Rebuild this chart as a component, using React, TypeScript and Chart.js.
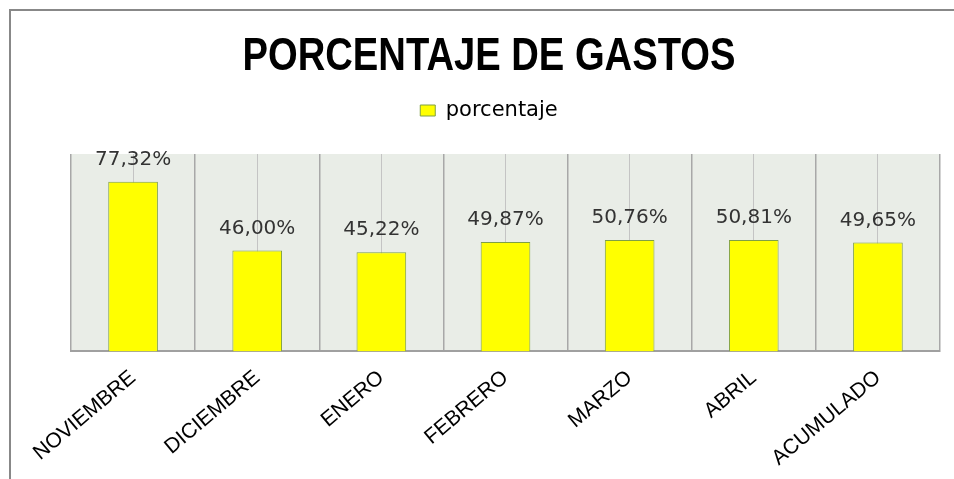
import React, { useEffect, useRef } from "react";
import { Chart, registerables } from "chart.js";

Chart.register(...registerables);

const titleText = "PORCENTAJE DE GASTOS";
const categories = ["NOVIEMBRE", "DICIEMBRE", "ENERO", "FEBRERO", "MARZO", "ABRIL", "ACUMULADO"];
const porcentaje = [77.32, 46.0, 45.22, 49.87, 50.76, 50.81, 49.65];
const yMin = 0;
const yMax = 90;

const bgPlugin = {
  id: "plotBg",
  beforeDraw(chart: any) {
    const { ctx, chartArea } = chart;
    ctx.save();
    ctx.fillStyle = "#e9ede7";
    ctx.fillRect(chartArea.left, chartArea.top, chartArea.right - chartArea.left, chartArea.bottom - chartArea.top);
    ctx.restore();
  },
};

// Condensed title (Calibri-like narrow bold), drawn as real canvas text
const titlePlugin = {
  id: "narrowTitle",
  afterDraw(chart: any) {
    const { ctx } = chart;
    ctx.save();
    ctx.font = "bold 46px 'Liberation Sans'";
    ctx.fillStyle = "#000000";
    ctx.textAlign = "center";
    ctx.textBaseline = "alphabetic";
    ctx.translate(489, 70);
    ctx.scale(0.83, 1);
    ctx.fillText(titleText, 0, 0);
    ctx.restore();
  },
};

const labelPlugin = {
  id: "barLabels",
  afterDatasetsDraw(chart: any) {
    const { ctx } = chart;
    const meta = chart.getDatasetMeta(0);
    ctx.save();
    ctx.font = "20px 'DejaVu Sans'";
    ctx.fillStyle = "#333333";
    ctx.textAlign = "center";
    ctx.textBaseline = "middle";
    meta.data.forEach((bar: any, i: number) => {
      const v = porcentaje[i];
      const txt = v.toFixed(2).replace(".", ",") + "%";
      ctx.fillText(txt, bar.x, bar.y - 22);
    });
    ctx.restore();
  },
};

export default function App() {
  const ref = useRef<HTMLCanvasElement | null>(null);
  useEffect(() => {
    if (!ref.current) return;
    const chart = new Chart(ref.current, {
      type: "bar",
      data: {
        labels: categories,
        datasets: [
          {
            label: "porcentaje",
            data: porcentaje,
            backgroundColor: "#ffff00",
            borderColor: "#7f9f45",
            borderWidth: 1,
            barPercentage: 0.4,
            categoryPercentage: 1,
            xAxisID: "x",
          },
        ],
      },
      options: {
        responsive: false,
        animation: false,
        devicePixelRatio: 1,
        layout: { padding: { left: 38, right: 14, top: 90, bottom: -6 } },
        plugins: {
          title: { display: false },
          legend: {
            display: true,
            labels: {
              color: "#000000",
              font: { family: "'DejaVu Sans'", size: 21 },
              boxWidth: 15,
              boxHeight: 11,
              padding: 10,
            },
          },
          tooltip: { enabled: false },
        },
        scales: {
          y: {
            display: true,
            min: yMin,
            max: yMax,
            grid: { display: false },
            border: { display: false },
            ticks: { display: false },
            afterFit(scale: any) {
              scale.width = 33;
            },
          },
          x: {
            position: "bottom",
            grid: { offset: true, color: "#a8a8a8", lineWidth: 1.5, drawTicks: false },
            border: { display: true, color: "#a0a0a0", width: 2 },
            ticks: {
              autoSkip: false,
              maxRotation: 40,
              minRotation: 40,
              padding: 14,
              color: "#000000",
              font: { family: "'Liberation Sans'", size: 21 },
            },
          },
          x2: {
            type: "category",
            position: "top",
            labels: categories,
            offset: true,
            grid: { offset: false, color: "#c4c4c4", lineWidth: 1, drawTicks: true, tickLength: 23, tickColor: "rgba(0,0,0,0)" },
            border: { display: false },
            ticks: { display: false },
          },
        },
      },
      plugins: [bgPlugin, labelPlugin, titlePlugin],
    });
    return () => chart.destroy();
  }, []);
  return (
    <div style={{ position: "fixed", left: 0, top: 0, width: 954, height: 479, background: "#ffffff" }}>
      <div
        style={{
          position: "absolute",
          left: 9,
          top: 9,
          right: 0,
          bottom: 0,
          borderLeft: "2px solid #888888",
          borderTop: "2px solid #888888",
        }}
      />
      <canvas ref={ref} width={954} height={479} style={{ position: "absolute", left: 0, top: 0 }} />
    </div>
  );
}
